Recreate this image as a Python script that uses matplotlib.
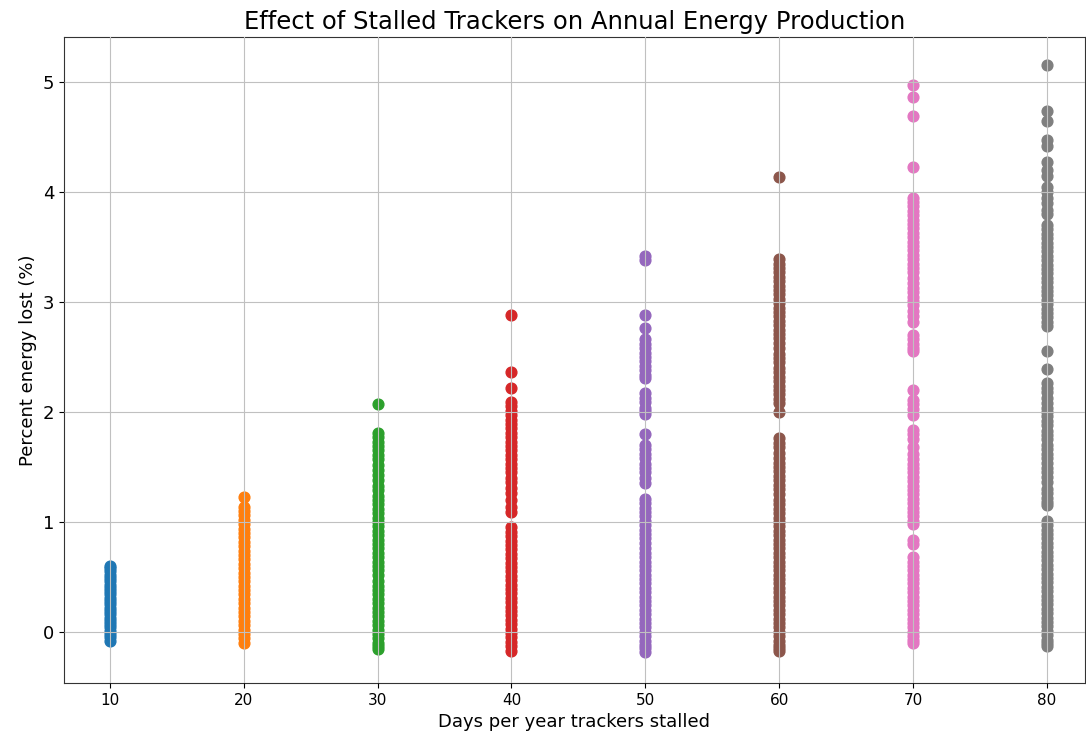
import matplotlib
matplotlib.use("Agg")
import matplotlib.pyplot as plt

# Days per year trackers stalled
days = [10, 20, 30, 40, 50, 60, 70, 80]

# Percent energy lost for each stall duration
loss_10 = [0.60, 0.58, 0.55, 0.52, 0.49, 0.46, 0.43, 0.40, 0.37, 0.34, 0.31, 0.28,
           0.25, 0.22, 0.19, 0.16, 0.13, 0.10, 0.07, 0.04, 0.01, -0.02, -0.05, -0.08]

loss_20 = [1.23, 1.14, 1.10, 1.06, 1.02, 0.98, 0.94, 0.90, 0.86, 0.82, 0.78, 0.74,
           0.70, 0.66, 0.62, 0.58, 0.54, 0.50, 0.46, 0.42, 0.38, 0.34, 0.30, 0.26,
           0.22, 0.18, 0.14, 0.10, 0.06, 0.02, -0.02, -0.06, -0.10]

loss_30 = [2.07, 1.81, 1.77, 1.73, 1.69, 1.65, 1.61, 1.57, 1.52, 1.47, 1.43, 1.38,
           1.33, 1.29, 1.24, 1.20, 1.16, 1.12, 1.08, 1.04, 1.00, 0.96, 0.92, 0.88,
           0.84, 0.80, 0.76, 0.72, 0.68, 0.64, 0.60, 0.56, 0.52, 0.46, 0.42, 0.38,
           0.34, 0.30, 0.26, 0.22, 0.18, 0.14, 0.10, 0.06, 0.02, -0.02, -0.06, -0.10,
           -0.13, -0.16]

loss_40 = [2.88, 2.36, 2.22, 2.09, 2.05, 2.01, 1.97, 1.93, 1.89, 1.85, 1.81, 1.77,
           1.73, 1.69, 1.65, 1.61, 1.57, 1.53, 1.49, 1.45, 1.40, 1.36, 1.31, 1.26,
           1.20, 1.14, 1.09, 0.95, 0.91, 0.87, 0.83, 0.79, 0.75, 0.71, 0.67, 0.63,
           0.59, 0.55, 0.51, 0.47, 0.43, 0.39, 0.35, 0.31, 0.27, 0.23, 0.19, 0.15,
           0.11, 0.07, 0.03, -0.01, -0.05, -0.09, -0.13, -0.17]

loss_50 = [3.42, 3.38, 2.88, 2.76, 2.66, 2.62, 2.58, 2.54, 2.50, 2.46, 2.42, 2.38,
           2.34, 2.31, 2.17, 2.13, 2.09, 2.04, 2.01, 1.98, 1.80, 1.70, 1.66, 1.62,
           1.58, 1.53, 1.49, 1.45, 1.40, 1.35, 1.21, 1.17, 1.13, 1.09, 1.05, 1.01,
           0.97, 0.93, 0.89, 0.85, 0.81, 0.76, 0.72, 0.68, 0.64, 0.60, 0.56, 0.52,
           0.48, 0.44, 0.40, 0.36, 0.32, 0.28, 0.24, 0.20, 0.16, 0.12, 0.08, 0.04,
           0.00, -0.04, -0.08, -0.12, -0.15, -0.18]

loss_60 = [4.14, 3.39, 3.35, 3.31, 3.27, 3.23, 3.19, 3.15, 3.11, 3.07, 3.03, 2.99,
           2.95, 2.91, 2.87, 2.83, 2.79, 2.75, 2.71, 2.67, 2.63, 2.58, 2.53, 2.49,
           2.45, 2.40, 2.36, 2.32, 2.28, 2.24, 2.20, 2.16, 2.12, 2.08, 2.00, 1.76,
           1.72, 1.68, 1.63, 1.58, 1.54, 1.50, 1.46, 1.42, 1.38, 1.34, 1.30, 1.25,
           1.20, 1.16, 1.12, 1.08, 1.04, 1.00, 0.96, 0.92, 0.88, 0.84, 0.80, 0.76,
           0.72, 0.68, 0.64, 0.60, 0.56, 0.52, 0.48, 0.44, 0.40, 0.36, 0.32, 0.28,
           0.24, 0.20, 0.16, 0.12, 0.08, 0.04, 0.00, -0.04, -0.08, -0.12, -0.15, -0.17]

loss_70 = [4.97, 4.86, 4.69, 4.23, 3.95, 3.91, 3.87, 3.83, 3.79, 3.75, 3.71, 3.67,
           3.63, 3.59, 3.55, 3.51, 3.47, 3.43, 3.39, 3.35, 3.31, 3.27, 3.22, 3.17,
           3.13, 3.09, 3.05, 3.01, 2.97, 2.92, 2.87, 2.82, 2.70, 2.66, 2.62, 2.58,
           2.55, 2.20, 2.11, 2.07, 2.03, 1.97, 1.84, 1.80, 1.75, 1.68, 1.62, 1.57,
           1.53, 1.49, 1.45, 1.41, 1.37, 1.33, 1.29, 1.25, 1.21, 1.17, 1.13, 1.09,
           1.05, 1.01, 0.98, 0.84, 0.80, 0.68, 0.64, 0.60, 0.56, 0.52, 0.48, 0.44,
           0.40, 0.36, 0.32, 0.28, 0.24, 0.20, 0.16, 0.12, 0.08, 0.04, 0.00, -0.04,
           -0.07, -0.10]

loss_80 = [5.16, 4.74, 4.65, 4.47, 4.42, 4.27, 4.20, 4.15, 4.05, 4.00, 3.95, 3.90,
           3.84, 3.80, 3.70, 3.66, 3.62, 3.58, 3.54, 3.50, 3.46, 3.42, 3.38, 3.34,
           3.30, 3.26, 3.22, 3.18, 3.14, 3.10, 3.06, 3.02, 2.98, 2.94, 2.90, 2.86,
           2.82, 2.78, 2.55, 2.39, 2.26, 2.22, 2.18, 2.13, 2.08, 2.04, 2.00, 1.96,
           1.92, 1.88, 1.83, 1.79, 1.75, 1.70, 1.66, 1.62, 1.58, 1.54, 1.49, 1.45,
           1.41, 1.36, 1.30, 1.26, 1.22, 1.18, 1.15, 1.01, 0.97, 0.93, 0.89, 0.85,
           0.81, 0.77, 0.73, 0.69, 0.65, 0.61, 0.57, 0.53, 0.49, 0.45, 0.41, 0.37,
           0.33, 0.29, 0.25, 0.21, 0.17, 0.13, 0.09, 0.05, 0.01, -0.03, -0.07, -0.10,
           -0.13]

losses = [loss_10, loss_20, loss_30, loss_40, loss_50, loss_60, loss_70, loss_80]

fig = plt.figure(figsize=(10.86, 7.36), dpi=100)
ax = fig.add_axes([0.0589, 0.072, 0.940, 0.8777])

for d, vals in zip(days, losses):
    ax.scatter([d] * len(vals), vals, s=60)

ax.set_xlim(6.56, 82.84)
ax.set_ylim(-0.465, 5.41)
ax.set_xticks(days)
ax.set_yticks([0, 1, 2, 3, 4, 5])
ax.tick_params(axis="x", labelsize=11)
ax.tick_params(axis="y", labelsize=13)
ax.grid(True, color="#c0c0c0")
ax.set_axisbelow(False)
for sp in ax.spines.values():
    sp.set_color("#333333")

ax.set_title("Effect of Stalled Trackers on Annual Energy Production", fontsize=17.5)
ax.set_xlabel("Days per year trackers stalled", fontsize=13)
ax.set_ylabel("Percent energy lost (%)", fontsize=13)

fig.savefig("out.png", dpi=100)
